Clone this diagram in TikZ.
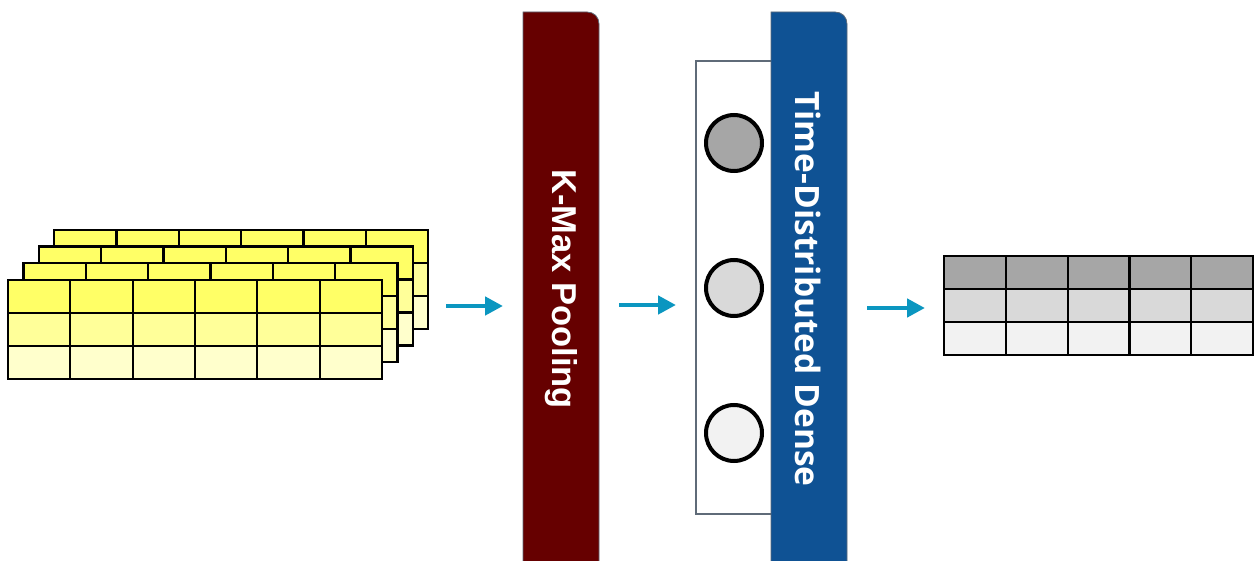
\documentclass[tikz,border=0pt]{standalone}
\usepackage{fontspec}
\usetikzlibrary{arrows.meta}
\newfontfamily\poolfont{Liberation Sans}
\newfontfamily\densefont{Open Sans}
\definecolor{poolred}{HTML}{660000}
\definecolor{denseblue}{HTML}{0F5294}
\definecolor{flowteal}{HTML}{0B96C0}
\definecolor{ylwA}{HTML}{FFFF66}
\definecolor{ylwB}{HTML}{FFFF99}
\definecolor{ylwC}{HTML}{FFFFCC}
\definecolor{grA}{HTML}{A6A6A6}
\definecolor{grB}{HTML}{D9D9D9}
\definecolor{grC}{HTML}{F2F2F2}
\definecolor{edgegray}{HTML}{5F6B78}
\begin{document}
\begin{tikzpicture}[x=1pt,y=-1pt,
  gridline/.style={draw=black,line width=2.2pt,line cap=rect},
  flow/.style={draw=flowteal,line width=4.5pt,-{Triangle[length=18pt,width=18pt]}},
  barlabel/.style={rotate=-90,text=white,inner sep=0pt},
  unit/.style={circle,draw=black,line width=4pt,minimum size=56pt,inner sep=0pt}]
\useasboundingbox (0,0) rectangle (1259,561);

% input feature maps: four stacked 3x6 grids, back to front
\foreach \k in {3,2,1,0} {
  \begin{scope}[shift={({8+15.4*\k},{280-16.7*\k})}]
    \fill[ylwA] (0,0) rectangle (374,33);
    \fill[ylwB] (0,33) rectangle (374,66);
    \fill[ylwC] (0,66) rectangle (374,99);
    \foreach \r in {0,33,66,99} \draw[gridline] (0,\r) -- (374,\r);
    \foreach \c in {0,1,...,6} \draw[gridline] ({62.333*\c},0) -- ({62.333*\c},99);
  \end{scope}
}

% k-max pooling layer
\fill[poolred,draw=edgegray,line width=0.8pt]
  (523,562) -- (523,12) -- (587,12) .. controls (594,12) and (599,17) .. (599,24) -- (599,562) -- cycle;
\node[barlabel,font=\poolfont\bfseries\fontsize{34.5}{34.5}\selectfont] (pool) at (561,289) {K-Max Pooling};

% hidden units panel
\draw[edgegray,fill=white,line width=1.2pt] (696,61) rectangle (772,514);
\node[unit,fill=grA] (u1) at (734,143) {};
\node[unit,fill=grB] (u2) at (734,288) {};
\node[unit,fill=grC] (u3) at (734,433) {};

% time-distributed dense layer
\fill[denseblue,draw=edgegray,line width=0.8pt]
  (771,562) -- (771,12) -- (835,12) .. controls (842,12) and (847,17) .. (847,24) -- (847,562) -- cycle;
\node[barlabel,font=\densefont\bfseries\fontsize{33.5}{33.5}\selectfont] (dense) at (808,289) {Time-Distributed Dense};

% output table
\begin{scope}[shift={(944,256)}]
  \fill[grA] (0,0) rectangle (309,33);
  \fill[grB] (0,33) rectangle (309,66);
  \fill[grC] (0,66) rectangle (309,99);
  \foreach \r in {0,33,66,99} \draw[gridline] (0,\r) -- (309,\r);
  \foreach \c in {0,1,...,5} \draw[gridline] ({61.8*\c},0) -- ({61.8*\c},99);
\end{scope}

% flow arrows
\coordinate (a1s) at (446,306); \coordinate (a1e) at (503,306);
\coordinate (a2s) at (619,305); \coordinate (a2e) at (676,305);
\coordinate (a3s) at (867,308); \coordinate (a3e) at (925,308);
\draw[flow] (a1s) -- (a1e);
\draw[flow] (a2s) -- (a2e);
\draw[flow] (a3s) -- (a3e);
\end{tikzpicture}
\end{document}
